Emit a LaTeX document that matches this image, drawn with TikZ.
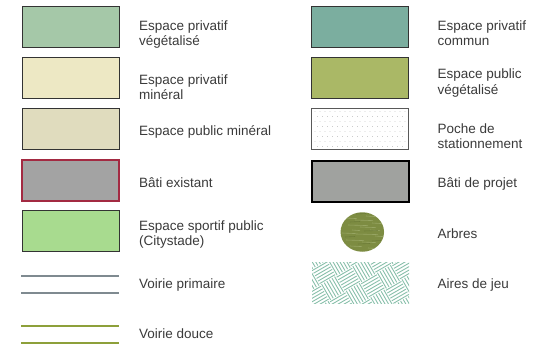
\documentclass[tikz,border=0pt]{standalone}
\usepackage{fontspec}
\setmainfont{Liberation Sans}
\usetikzlibrary{shapes.geometric}
\begin{document}
\begin{tikzpicture}[x=1pt,y=-1pt,
  lbl/.style={anchor=base west,align=left,inner sep=0pt,text=txtc,
     font=\fontsize{13.5}{15.5}\selectfont},
  swatch/.style={draw=bordc,line width=0.9pt,minimum width=97pt,minimum height=41pt,inner sep=0pt,outer sep=0pt}]
\definecolor{txtc}{HTML}{3A3A3A}
\definecolor{bordc}{HTML}{333333}
\definecolor{cPV}{HTML}{A5C8A8}
\definecolor{cPM}{HTML}{EDE8C4}
\definecolor{cUM}{HTML}{E0DCBE}
\definecolor{cBE}{HTML}{A3A3A3}
\definecolor{cBEb}{HTML}{A32A42}
\definecolor{cSP}{HTML}{A8DB8F}
\definecolor{cPC}{HTML}{7BAE9F}
\definecolor{cUV}{HTML}{AAB866}
\definecolor{cBP}{HTML}{A0A29F}
\definecolor{cTree}{HTML}{7D8C42}
\definecolor{cTreeL}{HTML}{A9B77A}
\definecolor{cTreeD}{HTML}{627231}
\definecolor{cJeu}{HTML}{88BFAA}
\definecolor{cVP}{HTML}{7F8A90}
\definecolor{cVD}{HTML}{8DA03A}
\useasboundingbox (0,0) rectangle (533,345);

% left column swatches
\node[swatch,fill=cPV] (pv) at (70.5,26.5) {};
\node[swatch,fill=cPM] (pm) at (70.5,77.5) {};
\node[swatch,fill=cUM] (um) at (70.5,128.5) {};
\node[swatch,fill=cBE,draw=cBEb,line width=1.5pt] (be) at (70.5,180.5) {};
\node[swatch,fill=cSP] (sp) at (70.5,231) {};
\coordinate (vp1a) at (21,276); \coordinate (vp1b) at (119,276);
\coordinate (vp2a) at (21,293); \coordinate (vp2b) at (119,293);
\draw[cVP,line width=1.6pt] (vp1a) -- (vp1b);
\draw[cVP,line width=1.6pt] (vp2a) -- (vp2b);
\coordinate (vd1a) at (21,326); \coordinate (vd1b) at (119,326);
\coordinate (vd2a) at (21,343); \coordinate (vd2b) at (119,343);
\draw[cVD,line width=1.6pt] (vd1a) -- (vd1b);
\draw[cVD,line width=1.6pt] (vd2a) -- (vd2b);

% left labels (multi-line nodes: base = last line)
\node[lbl] (tpv) at (139,46) {Espace privatif\\végétalisé};
\node[lbl] (tpm) at (139,99.5) {Espace privatif\\minéral};
\node[lbl] (tum) at (139,135) {Espace public minéral};
\node[lbl] (tbe) at (139,187) {Bâti existant};
\node[lbl] (tsp) at (139,245.5) {Espace sportif public\\(Citystade)};
\node[lbl] (tvp) at (139,288) {Voirie primaire};
\node[lbl] (tvd) at (139,338) {Voirie douce};

% right column swatches
\node[swatch,fill=cPC] (pc) at (360,26.5) {};
\node[swatch,fill=cUV] (uv) at (360,77.5) {};
\node[swatch,fill=white,draw=black!65] (ps) at (360,128.5) {};
\begin{scope}
\clip (313,109) rectangle (407,148);
\foreach \r in {0,...,7}{
  \foreach \c in {0,...,19}{
    \fill[black!30] ({315+\c*5+mod(\r,2)*2.5},{111.5+\r*5}) circle (0.45);
  }
}
\end{scope}
\node[swatch,fill=cBP,draw=black,line width=2pt] (bp) at (360,181) {};
\node[ellipse,fill=cTree,minimum width=43.5pt,minimum height=39.5pt,inner sep=0pt] (ar) at (362.3,232) {};
\begin{scope}
\clip (362.3,232) ellipse (21.7 and 19.8);
\foreach \x/\y/\l in {345/218/12,355/220/18,366/216/10,348/225/20,360/227/16,372/223/10,342/233/14,356/234/22,375/236/8,346/240/18,362/242/14,350/246/12,368/248/10,352/230/8,370/230/10}{
  \draw[cTreeL,line width=0.6pt,opacity=0.6] (\x,\y) -- ++(\l,0.6);
}
\foreach \x/\y/\l in {350/222/10,364/231/14,345/237/10,358/244/12,372/241/9,356/214/10}{
  \draw[cTreeD,line width=0.6pt,opacity=0.6] (\x,\y) -- ++(\l,-0.5);
}
\end{scope}
\node[minimum width=97pt,minimum height=41pt,inner sep=0pt] (aj) at (360.5,282.5) {};
\begin{scope}
\clip (312,262) rectangle (409,303);
\begin{scope}[shift={(360.5,282.5)},rotate=30]
\foreach \i in {-5,...,4}{
  \foreach \j in {-5,...,4}{
    \pgfmathtruncatemacro\pty{mod(\i+\j+20,2)}
    \ifnum\pty=0
      \foreach \k in {0,...,5}{
        \draw[cJeu,line width=0.9pt] ({\i*18},{\j*18+(\k+0.5)*3}) -- ({(\i+1)*18},{\j*18+(\k+0.5)*3});
      }
    \else
      \foreach \k in {0,...,5}{
        \draw[cJeu,line width=0.9pt] ({\i*18+(\k+0.5)*3},{\j*18}) -- ({\i*18+(\k+0.5)*3},{(\j+1)*18});
      }
    \fi
  }
}
\end{scope}
\end{scope}

% right labels
\node[lbl] (tpc) at (437.5,45.5) {Espace privatif\\commun};
\node[lbl] (tuv) at (437.5,94.5) {Espace public\\végétalisé};
\node[lbl] (tps) at (437.5,148.5) {Poche de\\stationnement};
\node[lbl] (tbp) at (437.5,187) {Bâti de projet};
\node[lbl] (tar) at (437.5,238) {Arbres};
\node[lbl] (taj) at (437.5,288) {Aires de jeu};
\end{tikzpicture}
\end{document}
